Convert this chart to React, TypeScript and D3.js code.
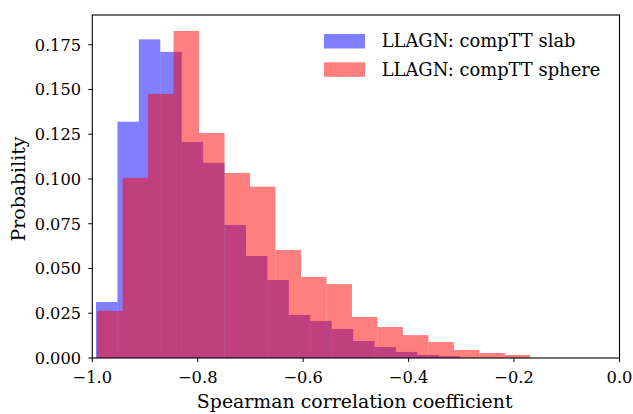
import React from "react";
import * as d3 from "d3";

const slabRange: [number, number] = [-0.993, -0.302];
const slabValues = [0.0313, 0.132, 0.178, 0.171, 0.1207, 0.109, 0.0743, 0.057, 0.0436, 0.024, 0.0207, 0.0162, 0.0095, 0.0061, 0.0034, 0.0017, 0.001];
const sphereRange: [number, number] = [-0.991, -0.169];
const sphereValues = [0.0263, 0.1006, 0.1475, 0.1827, 0.1257, 0.1034, 0.0957, 0.0603, 0.0453, 0.0413, 0.0229, 0.0173, 0.0128, 0.0089, 0.0045, 0.0028, 0.0017];
const xTicks = [-1.0, -0.8, -0.6, -0.4, -0.2, 0.0];
const yTicks = [0.0, 0.025, 0.05, 0.075, 0.1, 0.125, 0.15, 0.175];
const seriesNames = ["LLAGN: compTT slab", "LLAGN: compTT sphere"];
const seriesColors = ["#0000ff", "#ff0000"];

const W = 633, H = 414;
const M = { left: 92.3, right: 619.5, top: 15, bottom: 358 };
const FONT = "'DejaVu Serif', serif";

function bins(range: [number, number], values: number[]) {
  const n = values.length;
  const w = (range[1] - range[0]) / n;
  return values.map((v, i) => ({ x0: range[0] + i * w, x1: range[0] + (i + 1) * w, v }));
}

export default function App() {
  const x = d3.scaleLinear().domain([-1, 0]).range([M.left, M.right]);
  const y = d3.scaleLinear().domain([0, 0.1916]).range([M.bottom, M.top]);
  const series = [bins(slabRange, slabValues), bins(sphereRange, sphereValues)];
  const fmtX = (d: number) => (d === 0 ? "0.0" : d3.format(".1f")(d).replace("-", "\u2212"));
  const fmtY = d3.format(".3f");
  return (
    <svg width={W} height={H} style={{ position: "absolute", left: 0, top: 0, background: "#fff" }} fontFamily={FONT}>
      {series.map((s, si) => (
        <g key={si}>
          {s.map((b, i) => (
            <rect key={i} x={x(b.x0)} width={x(b.x1) - x(b.x0)} y={y(b.v)} height={y(0) - y(b.v)}
              fill={seriesColors[si]} fillOpacity={0.5} />
          ))}
        </g>
      ))}
      <rect x={M.left} y={M.top} width={M.right - M.left} height={M.bottom - M.top} fill="none" stroke="#000" strokeWidth={1.1} />
      {xTicks.map((t) => (
        <g key={t}>
          <line x1={x(t)} x2={x(t)} y1={M.bottom} y2={M.bottom + 4} stroke="#000" strokeWidth={1} />
          <text x={x(t)} y={383.3} textAnchor="middle" fontSize={16.3} fill="#000">{fmtX(t)}</text>
        </g>
      ))}
      {yTicks.map((t) => (
        <g key={t}>
          <line x1={M.left - 4} x2={M.left} y1={y(t)} y2={y(t)} stroke="#000" strokeWidth={1} />
          <text x={81} y={y(t)} dy="0.36em" textAnchor="end" fontSize={16.2} fill="#000">{fmtY(t)}</text>
        </g>
      ))}
      <text x={354.7} y={408.3} textAnchor="middle" fontSize={18.9} fill="#000">Spearman correlation coefficient</text>
      <text transform="translate(25,189) rotate(-90)" textAnchor="middle" fontSize={18.9} fill="#000">Probability</text>
      {seriesNames.map((name, i) => (
        <g key={name}>
          <rect x={324} y={34 + i * 28.3} width={41} height={14.5} fill={seriesColors[i]} fillOpacity={0.5} />
          <text x={381.7} y={47 + i * 28.7} fontSize={17.9} fill="#000">{name}</text>
        </g>
      ))}
    </svg>
  );
}
